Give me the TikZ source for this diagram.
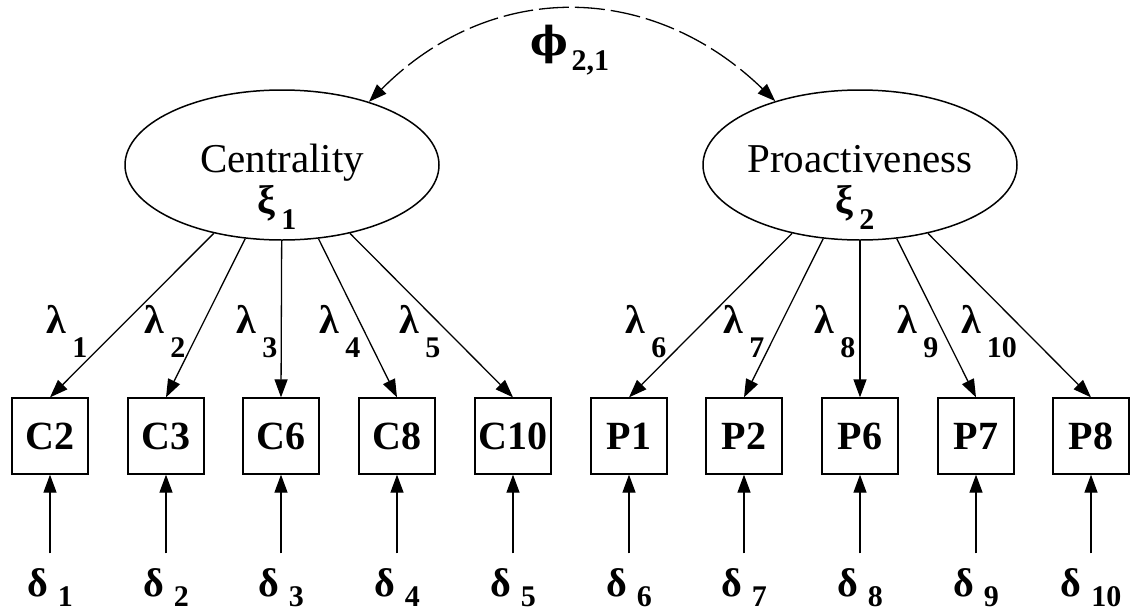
\documentclass[tikz,border=0pt]{standalone}
\usepackage{fontspec}
\setmainfont{Liberation Serif}
\newfontfamily\phifont{DejaVu Serif}
\usetikzlibrary{arrows.meta,shapes.geometric}
\newcommand{\glab}[4]{{\fontsize{40}{40}\selectfont\bfseries #1}\hspace{#3}\raisebox{-#4}{\fontsize{30}{30}\selectfont\bfseries #2}}
\begin{document}
\begin{tikzpicture}[x=1pt,y=-1pt,
  line width=1.3pt,
  tip/.tip={Triangle[length=18pt,width=13pt]},
  arr/.style={-tip},
  latent/.style={draw, ellipse, minimum width=314pt, minimum height=150pt, inner sep=0pt, line width=1.5pt},
  latname/.style={anchor=base, inner sep=0pt, font=\fontsize{41}{41}\selectfont},
  obs/.style={draw, rectangle, minimum width=76pt, minimum height=76pt, inner sep=0pt, font=\fontsize{40}{40}\selectfont\bfseries},
  lab/.style={anchor=base, inner sep=0pt},
  cov/.style={tip-tip, dash pattern=on 30pt off 6pt}
]
\fill[white] (0,0) rectangle (1130,611);
\useasboundingbox (0,0) rectangle (1130,611);

% latent variables
\node[latent] (cent) at (282,165) {};
\node[latent] (proa) at (860,165) {};
\node[latname] (centname) at (282,172) {Centrality};
\node[latname] (proaname) at (860,172) {Proactiveness};
\node[lab] (xi1) at (277,213) {\glab{ξ}{1}{6pt}{16pt}};
\node[lab] (xi2) at (855,213) {\glab{ξ}{2}{6pt}{16pt}};

% covariance
\node[lab] (phi) at (570,55) {\glab{\phifont ϕ}{2,1}{3pt}{15pt}};
\draw[cov] (cent.36) .. controls (490,-20) and (650,-20) .. (proa.143);

% indicators
\foreach \n/\x/\t in {c2/50/C2, c3/166/C3, c6/281/C6, c8/397/C8, c10/513/C10,
                      p1/629/P1, p2/744/P2, p6/860/P6, p7/976/P7, p8/1091/P8}{
  \node[obs] (\n) at (\x,436) {\t};
}

% loadings
\foreach \n in {c2,c3,c6,c8,c10}{ \draw[arr] (cent) -- (\n.north); }
\foreach \n in {p1,p2,p6,p7,p8}{ \draw[arr] (proa) -- (\n.north); }

\node[lab] (l1) at (67,333) {\glab{λ}{1}{6pt}{24pt}};
\node[lab] (l2) at (165,333) {\glab{λ}{2}{6pt}{24pt}};
\node[lab] (l3) at (257,333) {\glab{λ}{3}{6pt}{24pt}};
\node[lab] (l4) at (340,333) {\glab{λ}{4}{6pt}{24pt}};
\node[lab] (l5) at (420,333) {\glab{λ}{5}{6pt}{24pt}};
\node[lab] (l6) at (646,333) {\glab{λ}{6}{6pt}{24pt}};
\node[lab] (l7) at (744,333) {\glab{λ}{7}{6pt}{24pt}};
\node[lab] (l8) at (835,333) {\glab{λ}{8}{6pt}{24pt}};
\node[lab] (l9) at (918,333) {\glab{λ}{9}{6pt}{24pt}};
\node[lab] (l10) at (989,333) {\glab{λ}{10}{6pt}{24pt}};

% errors
\foreach \n/\x/\k in {c2/50/1, c3/166/2, c6/281/3, c8/397/4, c10/513/5,
                      p1/629/6, p2/744/7, p6/860/8, p7/976/9, p8/1091/10}{
  \node[lab] (d\k) at (\x,596) {\glab{δ}{\k}{10pt}{10pt}};
  \draw[arr, shorten <=14pt] (d\k.north) -- (\n.south);
}
\end{tikzpicture}
\end{document}
